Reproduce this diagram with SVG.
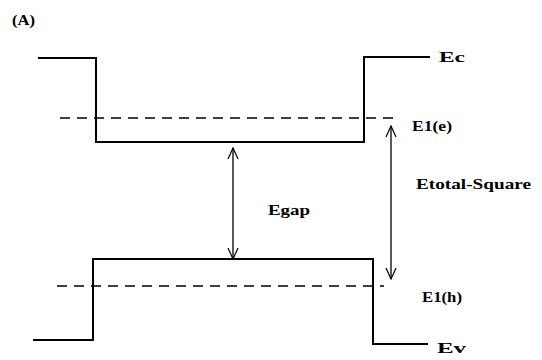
<svg xmlns="http://www.w3.org/2000/svg" width="542" height="360" viewBox="0 0 542 360">
<defs>
<style>
.l{fill:none;stroke:#000;stroke-width:2}
.d{fill:none;stroke:#000;stroke-width:1.6;stroke-dasharray:10 7}
.a{fill:none;stroke:#000;stroke-width:1.3}
.t{font-family:"Liberation Serif",serif;font-weight:bold;font-size:14px;fill:#000}
</style>
<marker id="ah" viewBox="0 0 12 12" refX="11" refY="6" markerWidth="12" markerHeight="12" markerUnits="userSpaceOnUse" orient="auto-start-reverse">
<path d="M0,1 L11,6 L0,11" fill="none" stroke="#000" stroke-width="1.2"/>
</marker>
</defs>
<rect width="542" height="360" fill="#fff"/>
<g id="label-A"><text class="t" x="12" y="25" textLength="23" lengthAdjust="spacingAndGlyphs">(A)</text></g>
<g id="conduction-band">
<polyline class="l" points="38,58 96,58 96,142 364,142 364,57 430,57"/>
<text class="t" x="439" y="62" textLength="26" lengthAdjust="spacingAndGlyphs">Ec</text>
</g>
<g id="valence-band">
<polyline class="l" points="33,340 93,340 93,259 373,259 373,344 428,344"/>
<text class="t" x="437" y="353" textLength="29" lengthAdjust="spacingAndGlyphs">Ev</text>
</g>
<g id="level-e">
<line class="d" x1="60" y1="118" x2="396" y2="118"/>
<text class="t" x="412" y="131" textLength="40" lengthAdjust="spacingAndGlyphs">E1(e)</text>
</g>
<g id="level-h">
<line class="d" x1="57" y1="286" x2="384" y2="286"/>
<text class="t" x="422" y="302" textLength="40" lengthAdjust="spacingAndGlyphs">E1(h)</text>
</g>
<g id="connectors">
<line class="a" x1="233" y1="148" x2="233" y2="259" marker-start="url(#ah)" marker-end="url(#ah)"/>
<line class="a" x1="391" y1="126" x2="391" y2="279" marker-start="url(#ah)" marker-end="url(#ah)"/>
</g>
<g id="labels">
<text class="t" x="268" y="215" textLength="42" lengthAdjust="spacingAndGlyphs">Egap</text>
<text class="t" x="416" y="189" textLength="115" lengthAdjust="spacingAndGlyphs">Etotal-Square</text>
</g>
</svg>
